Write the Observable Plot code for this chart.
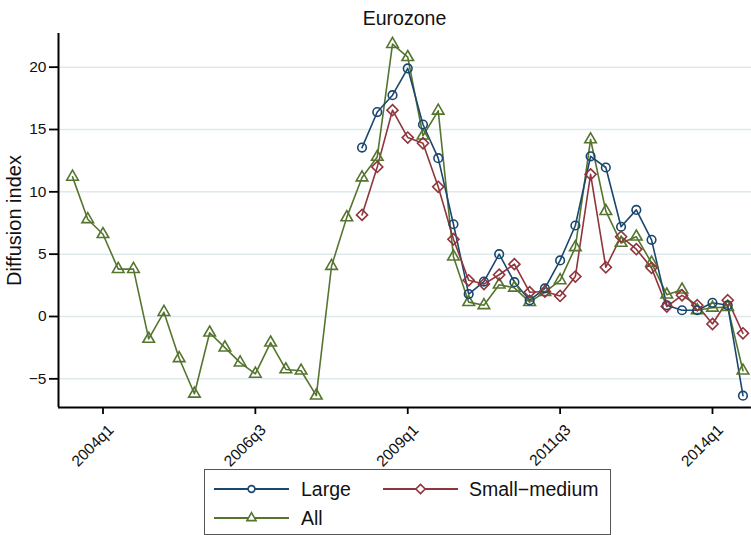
<!DOCTYPE html>
<html><head><meta charset="utf-8">
<script src="https://cdn.jsdelivr.net/npm/d3@7"></script>
<script src="https://cdn.jsdelivr.net/npm/@observablehq/plot@0.6"></script>
<style>
body{margin:0;background:#fff;font-family:"Liberation Sans",Arial,Helvetica,sans-serif;color:#111;}
#wrap{position:relative;width:751px;height:535px;overflow:hidden;}
#title{position:absolute;left:58px;width:693px;top:0;height:36px;text-align:center;font-size:19.5px;line-height:36px;}
#chart{position:absolute;left:0;top:30px;}
#legend{position:absolute;left:204px;top:469px;width:407px;height:66px;border:1px solid #555;box-sizing:border-box;font-size:19.5px;}
.sw{position:absolute;width:75px;height:20px;}
.lt{position:absolute;height:24px;line-height:24px;white-space:nowrap;}
</style></head><body>
<div id="wrap"><div id="title">Eurozone</div><div id="chart"></div><div id="legend"></div></div>
<script>
const quarters = ["2003q3","2003q4",
  "2004q1","2004q2","2004q3","2004q4","2005q1","2005q2","2005q3","2005q4",
  "2006q1","2006q2","2006q3","2006q4","2007q1","2007q2","2007q3","2007q4",
  "2008q1","2008q2","2008q3","2008q4","2009q1","2009q2","2009q3","2009q4",
  "2010q1","2010q2","2010q3","2010q4","2011q1","2011q2","2011q3","2011q4",
  "2012q1","2012q2","2012q3","2012q4","2013q1","2013q2","2013q3","2013q4",
  "2014q1","2014q2","2014q3"];
const allValues = [11.2, 7.8, 6.6, 3.8, 3.8, -1.8, 0.35, -3.35, -6.2, -1.3,
  -2.5, -3.7, -4.6, -2.1, -4.25, -4.35, -6.35, 4.05, 7.95, 11.15,
  12.8, 21.85, 20.8, 14.5, 16.5, 4.8, 1.15, 0.9, 2.55, 2.3,
  1.15, 1.95, 2.9, 5.55, 14.2, 8.45, 5.9, 6.4, 4.3, 1.75,
  2.15, 0.5, 0.7, 0.75, -4.35];
const firmStart = "2008q2";
const largeValues = [13.55, 16.4, 17.75, 19.9, 15.4, 12.7, 7.4, 1.8, 2.8, 5.0,
  2.75, 1.3, 2.25, 4.5, 7.3, 12.85, 11.95, 7.2, 8.55, 6.15,
  0.9, 0.5, 0.5, 1.1, 0.9, -6.35];
const smallValues = [8.15, 12.0, 16.55, 14.35, 13.9, 10.4, 6.2, 2.9, 2.6, 3.35,
  4.2, 1.95, 2.0, 1.65, 3.2, 11.4, 3.95, 6.4, 5.4, 3.9,
  0.8, 1.7, 0.9, -0.6, 1.3, -1.35];
const xTickLabels = ["2004q1","2006q3","2009q1","2011q3","2014q1"];
const yTicks = [-5, 0, 5, 10, 15, 20];
const seriesNames = ["Large", "Small\u2212medium", "All"];
const seriesColors = ["#1a476f", "#90353b", "#55752f"];
const seriesSymbols = ["circle", "diamond2", "triangle"];
const seriesR = [4.3, 5.0, 4.3];

const s0 = quarters.indexOf(firmStart);
const seriesData = [
  largeValues.map((v, k) => ({i: s0 + k, v})),
  smallValues.map((v, k) => ({i: s0 + k, v})),
  allValues.map((v, k) => ({i: k, v}))
];
const xDomain = [-0.92, 44.56];
const yDomain = [-7.3, 22.7];
const font = '"Liberation Sans", Arial, Helvetica, sans-serif';

const marks = [
  Plot.gridY(yTicks, {stroke: "#dde9eb", strokeOpacity: 1, strokeWidth: 1.5}),
  Plot.axisY(yTicks, {tickSize: 9, tickPadding: 3, tickFormat: d3.format("d"), fontSize: 15.5, label: null, stroke: "#000", strokeWidth: 1.8}),
  Plot.axisX(xTickLabels.map(q => quarters.indexOf(q)), {tickSize: 7, tickPadding: 3, tickRotate: -45, tickFormat: i => quarters[i], fontSize: 15.5, label: null, stroke: "#000", strokeWidth: 1.8, textStroke: "none"}),
  Plot.ruleX([xDomain[0]], {stroke: "#000", strokeWidth: 2}),
  Plot.ruleY([yDomain[0]], {stroke: "#000", strokeWidth: 2}),
  Plot.text(["Diffusion index"], {frameAnchor: "left", textAnchor: "middle", rotate: -90, dx: -44, fontSize: 20, fill: "#111"})
];
[2, 0, 1].forEach(s => {
  marks.push(Plot.line(seriesData[s], {x: "i", y: "v", stroke: seriesColors[s], strokeWidth: 1.6, strokeLinejoin: "round"}));
});
[2, 0, 1].forEach(s => {
  marks.push(Plot.dot(seriesData[s], {x: "i", y: "v", symbol: seriesSymbols[s], r: seriesR[s], stroke: seriesColors[s], fill: "none", strokeWidth: 1.6}));
});

const chart = Plot.plot({
  width: 751, height: 440,
  marginTop: 3, marginBottom: 63, marginLeft: 58, marginRight: 0,
  x: {domain: xDomain},
  y: {domain: yDomain},
  style: {fontFamily: font, fontSize: "15.5px", color: "#111", background: "#fff", overflow: "visible"},
  marks
});
// shift rotated x tick labels to match reference placement
d3.select(chart).selectAll('g[aria-label="x-axis tick label"]').attr("transform", function() {
  const t = this.getAttribute("transform") || "";
  return t + " translate(8,10)";
});
document.getElementById("chart").appendChild(chart);

// legend
const legend = document.getElementById("legend");
const rowsY = [19, 48];
const layout = [{s: 0, col: 0, row: 0}, {s: 1, col: 1, row: 0}, {s: 2, col: 0, row: 1}];
const colSw = [9, 178], colTx = [96, 264];
layout.forEach(({s, col, row}) => {
  const svg = d3.create("svg").attr("class", "sw").attr("width", 75).attr("height", 20)
    .style("left", colSw[col] + "px").style("top", (rowsY[row] - 10) + "px");
  svg.append("line").attr("x1", 0).attr("x2", 75).attr("y1", 10).attr("y2", 10)
    .attr("stroke", seriesColors[s]).attr("stroke-width", 2);
  const symMap = {circle: d3.symbolCircle, diamond2: d3.symbolDiamond2, triangle: d3.symbolTriangle};
  const rr = [3.4, 4.2, 3.4][s];
  svg.append("path").attr("transform", "translate(37.5,10)")
    .attr("d", d3.symbol(symMap[seriesSymbols[s]], Math.PI * rr * rr)())
    .attr("fill", "#fff").attr("stroke", seriesColors[s]).attr("stroke-width", 1.6);
  legend.appendChild(svg.node());
  const t = document.createElement("div");
  t.className = "lt";
  t.style.left = colTx[col] + "px";
  t.style.top = (rowsY[row] - 12) + "px";
  t.textContent = seriesNames[s];
  legend.appendChild(t);
});
</script>
</body></html>
